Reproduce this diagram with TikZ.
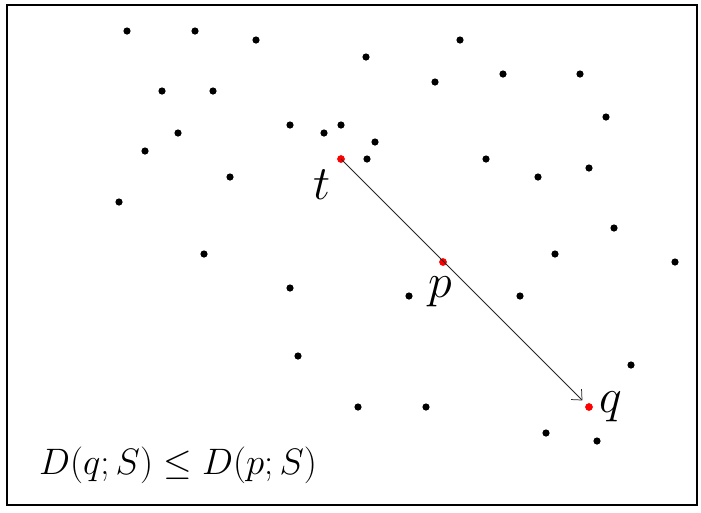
\documentclass[tikz,border=0pt]{standalone}
\usetikzlibrary{arrows.meta}
\begin{document}
\begin{tikzpicture}[x=0.75pt,y=-0.75pt,
  pt/.style={circle,fill=black,inner sep=0pt,minimum size=5.4pt},
  rpt/.style={circle,fill=red,inner sep=0pt,minimum size=5.8pt},
  lbl/.style={font=\fontsize{24.88}{30}\selectfont,scale=1.11},
  ptlbl/.style={font=\fontsize{24.88}{30}\selectfont,scale=1.45}]
\useasboundingbox (0,0) rectangle (701,512);
\draw[line width=0.9pt] (7,5) rectangle (697,505);
\foreach \x/\y [count=\i] in {127/31,195/31,256/40,366/57,460/40,435/82,503/74,580/74,162/91,213/91,606/117,178/133,290/125,324/133,341/125,375/142,145/151,367/159,486/159,538/177,589/168,230/177,119/202,614/228,204/254,555/254,675/262,290/288,409/296,520/296,298/356,631/365,358/407,426/407,546/433,597/441}
  {\node[pt] (d\i) at (\x,\y) {};}
\node[rpt] (t) at (341,159) {};
\node[rpt] (p) at (443,262) {};
\node[rpt] (q) at (589,407) {};
\draw[line width=0.55pt,draw=black!85,-{Straight Barb[length=6pt,width=11pt]},shorten >=7pt] (t.center) -- (q.center);
\node[ptlbl] (tl) at (322,185) {$t$};
\node[ptlbl] (pl) at (440,292) {$p$};
\node[ptlbl] (ql) at (611,407) {$q$};
\node[lbl] (f) at (178,465) {$D(q;S)\leq D(p;S)$};
\end{tikzpicture}
\end{document}
